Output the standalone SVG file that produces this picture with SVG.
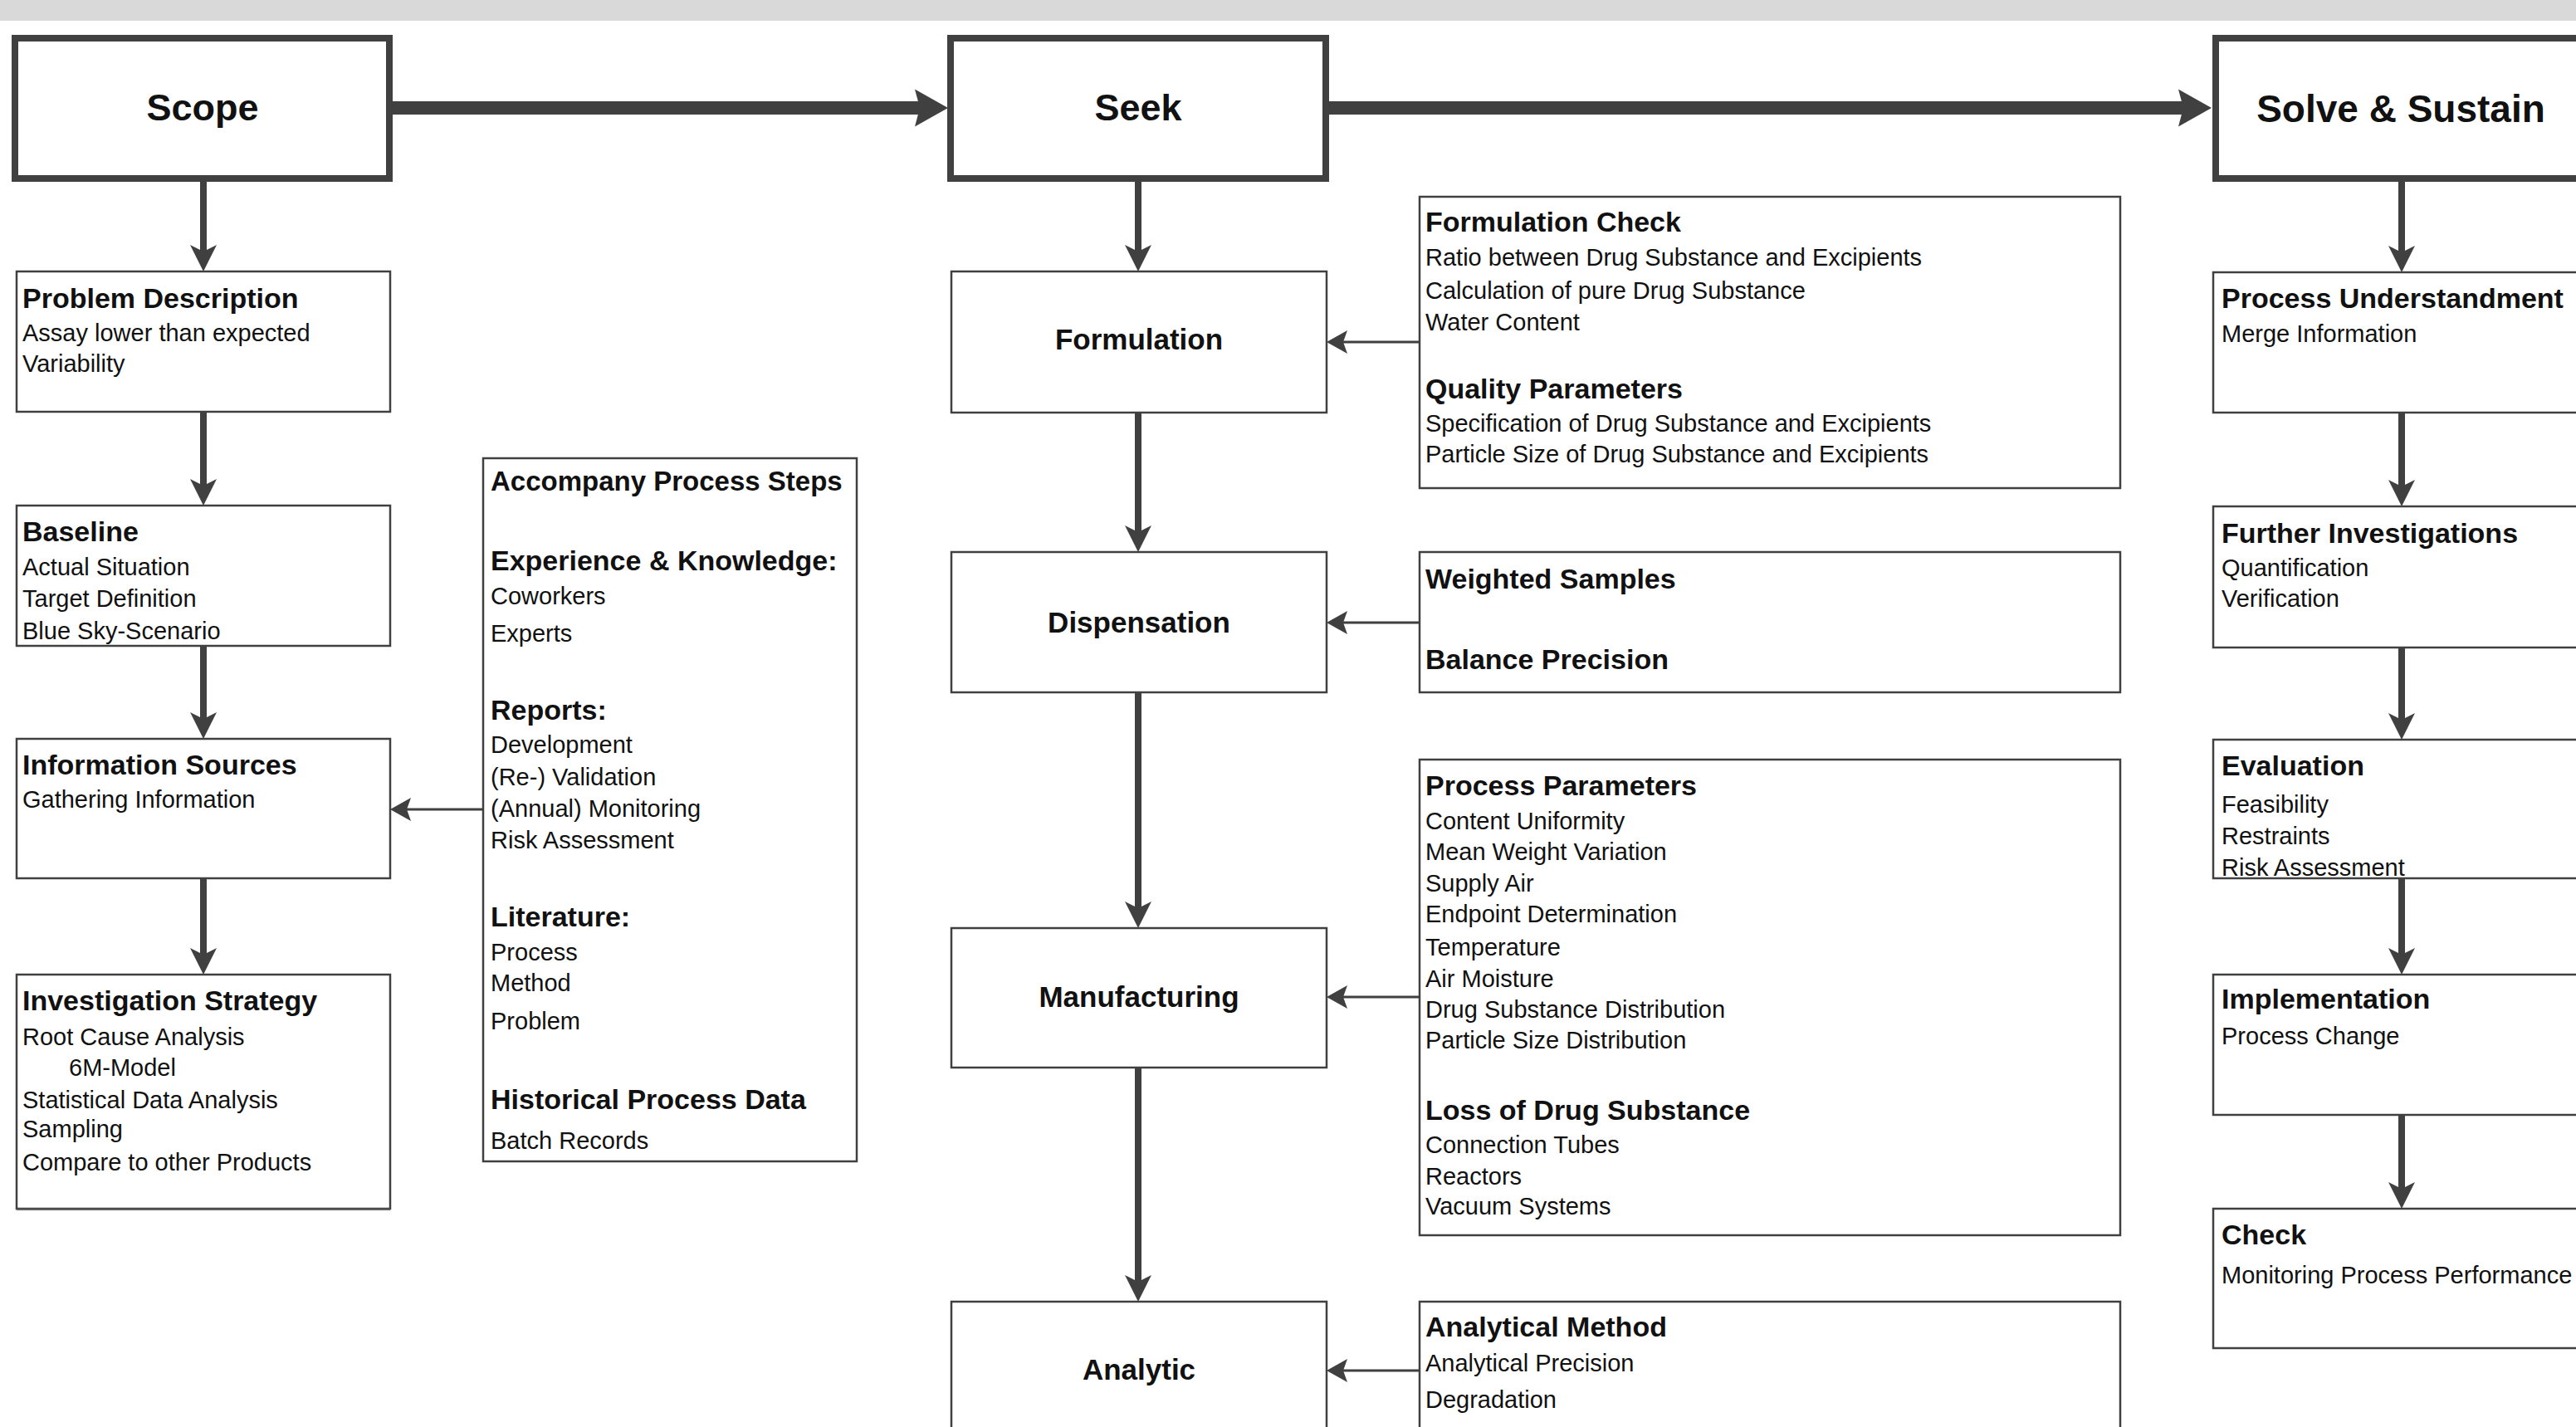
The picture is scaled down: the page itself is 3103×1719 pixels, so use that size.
<svg xmlns="http://www.w3.org/2000/svg" width="3103" height="1719" viewBox="0 0 3103 1719">
<style>
.bg{fill:#ffffff}
.band{fill:#d9d9d9}
.big{fill:#ffffff;stroke:#404040;stroke-width:8}
.box{fill:#ffffff;stroke:#404040;stroke-width:2.5}
text{font-family:"Liberation Sans",Arial,sans-serif;fill:#111111}
.h1{font-size:45px;font-weight:bold;text-anchor:middle}
.mid{font-size:35px;font-weight:bold;text-anchor:middle}
.t{font-size:34px;font-weight:bold}
.s{font-size:29px}
.thick{stroke:#404040;stroke-width:16;fill:none;stroke-linecap:round}
.med{stroke:#404040;stroke-width:8;fill:none}
.thin{stroke:#404040;stroke-width:3;fill:none}
</style>
<defs>
<marker id="ahThick" markerUnits="userSpaceOnUse" viewBox="-20 -25 50 50" markerWidth="50" markerHeight="50" refX="0" refY="0" orient="auto" overflow="visible">
<path d="M25,0 L-15,-22.5 L-9,0 L-15,22.5 Z" fill="#404040"/>
</marker>
<marker id="ahMed" markerUnits="userSpaceOnUse" viewBox="-15 -20 40 40" markerWidth="40" markerHeight="40" refX="0" refY="0" orient="auto" overflow="visible">
<path d="M20,0 L-12,-16 L-4,0 L-12,16 Z" fill="#404040"/>
</marker>
<marker id="ahThin" markerUnits="userSpaceOnUse" viewBox="-12 -16 30 32" markerWidth="30" markerHeight="32" refX="0" refY="0" orient="auto" overflow="visible">
<path d="M15,0 L-10,-14 L-5,0 L-10,14 Z" fill="#404040"/>
</marker>
</defs>
<rect class="bg" x="0" y="0" width="3103" height="1719"/>
<rect class="band" x="0" y="0" width="3103" height="25"/>

<g id="connectors">
<line class="thick" x1="466" y1="130" x2="1117" y2="130" marker-end="url(#ahThick)"/>
<line class="thick" x1="1594" y1="130" x2="2639" y2="130" marker-end="url(#ahThick)"/>
<line class="med" x1="245" y1="219" x2="245" y2="307" marker-end="url(#ahMed)"/>
<line class="med" x1="245" y1="496" x2="245" y2="589" marker-end="url(#ahMed)"/>
<line class="med" x1="245" y1="778" x2="245" y2="870" marker-end="url(#ahMed)"/>
<line class="med" x1="245" y1="1058" x2="245" y2="1154" marker-end="url(#ahMed)"/>
<line class="med" x1="1371" y1="219" x2="1371" y2="307" marker-end="url(#ahMed)"/>
<line class="med" x1="1371" y1="497" x2="1371" y2="645" marker-end="url(#ahMed)"/>
<line class="med" x1="1371" y1="834" x2="1371" y2="1098" marker-end="url(#ahMed)"/>
<line class="med" x1="1371" y1="1286" x2="1371" y2="1548" marker-end="url(#ahMed)"/>
<line class="med" x1="2893" y1="219" x2="2893" y2="308" marker-end="url(#ahMed)"/>
<line class="med" x1="2893" y1="497" x2="2893" y2="590" marker-end="url(#ahMed)"/>
<line class="med" x1="2893" y1="780" x2="2893" y2="871" marker-end="url(#ahMed)"/>
<line class="med" x1="2893" y1="1058" x2="2893" y2="1154" marker-end="url(#ahMed)"/>
<line class="med" x1="2893" y1="1343" x2="2893" y2="1436" marker-end="url(#ahMed)"/>
<line class="thin" x1="582" y1="975" x2="485" y2="975" marker-end="url(#ahThin)"/>
<line class="thin" x1="1710" y1="412" x2="1613" y2="412" marker-end="url(#ahThin)"/>
<line class="thin" x1="1710" y1="750" x2="1613" y2="750" marker-end="url(#ahThin)"/>
<line class="thin" x1="1710" y1="1201" x2="1613" y2="1201" marker-end="url(#ahThin)"/>
<line class="thin" x1="1710" y1="1651" x2="1613" y2="1651" marker-end="url(#ahThin)"/>
</g>

<g id="scope">
<rect class="big" x="18" y="46" width="451" height="169"/>
<text class="h1" x="244" y="145">Scope</text>
</g>
<g id="seek">
<rect class="big" x="1145" y="46" width="452" height="169"/>
<text class="h1" x="1371" y="145">Seek</text>
</g>
<g id="solve">
<rect class="big" x="2669" y="46" width="460" height="169"/>
<text class="h1" x="2892" y="147" style="font-size:46px">Solve &amp; Sustain</text>
</g>

<g id="problem-description">
<rect class="box" x="20" y="327" width="450" height="169"/>
<text class="t" x="27" y="371">Problem Description</text>
<text class="s" x="27" y="411">Assay lower than expected</text>
<text class="s" x="27" y="448">Variability</text>
</g>
<g id="baseline">
<rect class="box" x="20" y="609" width="450" height="169"/>
<text class="t" x="27" y="652">Baseline</text>
<text class="s" x="27" y="693">Actual Situation</text>
<text class="s" x="27" y="731">Target Definition</text>
<text class="s" x="27" y="770">Blue Sky-Scenario</text>
</g>
<g id="information-sources">
<rect class="box" x="20" y="890" width="450" height="168"/>
<text class="t" x="27" y="933">Information Sources</text>
<text class="s" x="27" y="973">Gathering Information</text>
</g>
<g id="investigation-strategy">
<rect class="box" x="20" y="1174" width="450" height="282"/>
<line x1="20" y1="1457" x2="470" y2="1457" stroke="#606060" stroke-width="2"/>
<text class="t" x="27" y="1217">Investigation Strategy</text>
<text class="s" x="27" y="1259">Root Cause Analysis</text>
<text class="s" x="83" y="1296">6M-Model</text>
<text class="s" x="27" y="1335">Statistical Data Analysis</text>
<text class="s" x="27" y="1370">Sampling</text>
<text class="s" x="27" y="1410">Compare to other Products</text>
</g>
<g id="accompany-process-steps">
<rect class="box" x="582" y="552" width="450" height="847"/>
<text class="t" x="591" y="591" style="font-size:33px">Accompany Process Steps</text>
<text class="t" x="591" y="687">Experience &amp; Knowledge:</text>
<text class="s" x="591" y="728">Coworkers</text>
<text class="s" x="591" y="773">Experts</text>
<text class="t" x="591" y="867">Reports:</text>
<text class="s" x="591" y="907">Development</text>
<text class="s" x="591" y="946">(Re-) Validation</text>
<text class="s" x="591" y="984">(Annual) Monitoring</text>
<text class="s" x="591" y="1022">Risk Assessment</text>
<text class="t" x="591" y="1116">Literature:</text>
<text class="s" x="591" y="1157">Process</text>
<text class="s" x="591" y="1194">Method</text>
<text class="s" x="591" y="1240">Problem</text>
<text class="t" x="591" y="1336">Historical Process Data</text>
<text class="s" x="591" y="1384">Batch Records</text>
</g>

<g id="formulation">
<rect class="box" x="1146" y="327" width="452" height="170"/>
<text class="mid" x="1372" y="421">Formulation</text>
</g>
<g id="dispensation">
<rect class="box" x="1146" y="665" width="452" height="169"/>
<text class="mid" x="1372" y="762">Dispensation</text>
</g>
<g id="manufacturing">
<rect class="box" x="1146" y="1118" width="452" height="168"/>
<text class="mid" x="1372" y="1213">Manufacturing</text>
</g>
<g id="analytic">
<rect class="box" x="1146" y="1568" width="452" height="200"/>
<text class="mid" x="1372" y="1662">Analytic</text>
</g>

<g id="formulation-check">
<rect class="box" x="1710" y="237" width="844" height="351"/>
<text class="t" x="1717" y="279">Formulation Check</text>
<text class="s" x="1717" y="320">Ratio between Drug Substance and Excipients</text>
<text class="s" x="1717" y="360">Calculation of pure Drug Substance</text>
<text class="s" x="1717" y="398">Water Content</text>
<text class="t" x="1717" y="480">Quality Parameters</text>
<text class="s" x="1717" y="520">Specification of Drug Substance and Excipients</text>
<text class="s" x="1717" y="557">Particle Size of Drug Substance and Excipients</text>
</g>
<g id="weighted-samples">
<rect class="box" x="1710" y="665" width="844" height="169"/>
<text class="t" x="1717" y="709">Weighted Samples</text>
<text class="t" x="1717" y="806">Balance Precision</text>
</g>
<g id="process-parameters">
<rect class="box" x="1710" y="915" width="844" height="573"/>
<text class="t" x="1717" y="958">Process Parameters</text>
<text class="s" x="1717" y="999">Content Uniformity</text>
<text class="s" x="1717" y="1036">Mean Weight Variation</text>
<text class="s" x="1717" y="1074">Supply Air</text>
<text class="s" x="1717" y="1111">Endpoint Determination</text>
<text class="s" x="1717" y="1151">Temperature</text>
<text class="s" x="1717" y="1189">Air Moisture</text>
<text class="s" x="1717" y="1226">Drug Substance Distribution</text>
<text class="s" x="1717" y="1263">Particle Size Distribution</text>
<text class="t" x="1717" y="1349">Loss of Drug Substance</text>
<text class="s" x="1717" y="1389">Connection Tubes</text>
<text class="s" x="1717" y="1427">Reactors</text>
<text class="s" x="1717" y="1463">Vacuum Systems</text>
</g>
<g id="analytical-method">
<rect class="box" x="1710" y="1568" width="844" height="200"/>
<text class="t" x="1717" y="1610">Analytical Method</text>
<text class="s" x="1717" y="1652">Analytical Precision</text>
<text class="s" x="1717" y="1696">Degradation</text>
</g>

<g id="process-understandment">
<rect class="box" x="2666" y="328" width="460" height="169"/>
<text class="t" x="2676" y="371">Process Understandment</text>
<text class="s" x="2676" y="412">Merge Information</text>
</g>
<g id="further-investigations">
<rect class="box" x="2666" y="610" width="460" height="170"/>
<text class="t" x="2676" y="654">Further Investigations</text>
<text class="s" x="2676" y="694">Quantification</text>
<text class="s" x="2676" y="731">Verification</text>
</g>
<g id="evaluation">
<rect class="box" x="2666" y="891" width="460" height="167"/>
<text class="t" x="2676" y="934">Evaluation</text>
<text class="s" x="2676" y="979">Feasibility</text>
<text class="s" x="2676" y="1017">Restraints</text>
<text class="s" x="2676" y="1055">Risk Assessment</text>
</g>
<g id="implementation">
<rect class="box" x="2666" y="1174" width="460" height="169"/>
<text class="t" x="2676" y="1215">Implementation</text>
<text class="s" x="2676" y="1258">Process Change</text>
</g>
<g id="check">
<rect class="box" x="2666" y="1456" width="460" height="168"/>
<text class="t" x="2676" y="1499">Check</text>
<text class="s" x="2676" y="1546">Monitoring Process Performance</text>
</g>
</svg>
